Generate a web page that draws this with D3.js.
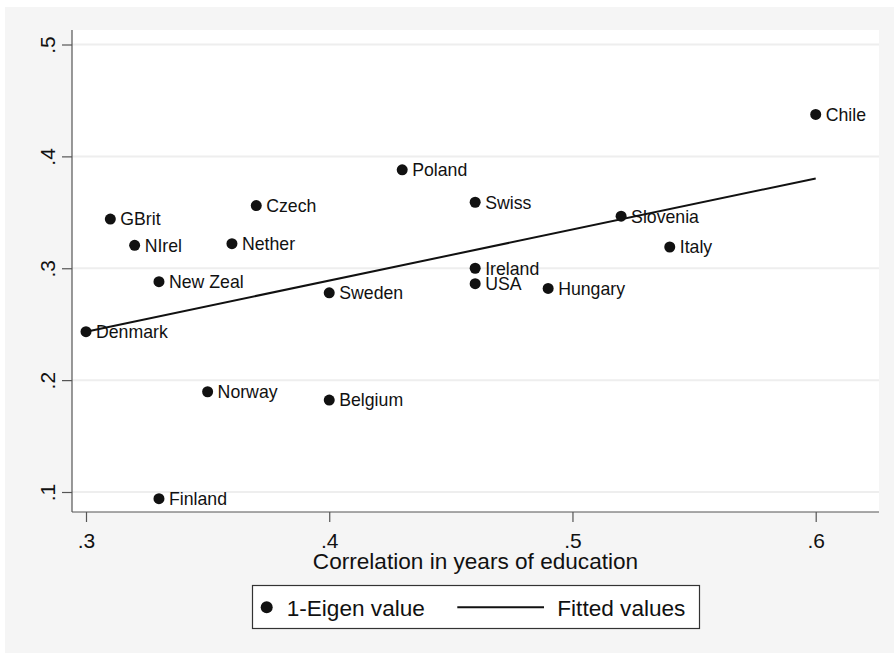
<!DOCTYPE html>
<html>
<head>
<meta charset="utf-8">
<script src="https://cdn.jsdelivr.net/npm/d3@7"></script>
<style>
  html, body { margin: 0; padding: 0; background: #ffffff; }
  svg { display: block; font-family: "Liberation Sans", Arial, Helvetica, sans-serif; }
</style>
</head>
<body>
<svg id="chart" width="894" height="654"></svg>
<script>
// ---- data ----
const countries = ["Chile","Poland","Czech","GBrit","NIrel","Nether","New Zeal","Sweden","Swiss","Slovenia","Italy","Ireland","USA","Hungary","Denmark","Norway","Belgium","Finland"];
const eduCorr   = [0.60, 0.43, 0.37, 0.31, 0.32, 0.36, 0.33, 0.40, 0.46, 0.52, 0.54, 0.46, 0.46, 0.49, 0.30, 0.35, 0.40, 0.33];
const eigenVal  = [0.4375, 0.388, 0.356, 0.344, 0.3205, 0.322, 0.288, 0.278, 0.359, 0.3465, 0.319, 0.300, 0.2862, 0.282, 0.2433, 0.1896, 0.1822, 0.094];
const fitX = [0.30, 0.60];
const fitY = [0.2433, 0.3803];
const xTicks = [0.3, 0.4, 0.5, 0.6];
const xTickLabels = [".3", ".4", ".5", ".6"];
const yTicks = [0.1, 0.2, 0.3, 0.4, 0.5];
const yTickLabels = [".1", ".2", ".3", ".4", ".5"];
const xTitle = "Correlation in years of education";
const legendLabels = ["1-Eigen value", "Fitted values"];

// ---- layout ----
const svg = d3.select("#chart");
const plot = { left: 72, right: 879, top: 30, bottom: 512 };

svg.append("rect").attr("x", 5).attr("y", 7).attr("width", 889).attr("height", 646).attr("fill", "#f5f5f5");
svg.append("rect").attr("x", plot.left).attr("y", plot.top)
  .attr("width", plot.right - plot.left).attr("height", plot.bottom - plot.top).attr("fill", "#ffffff");

const x = d3.scaleLinear().domain([0.3, 0.6]).range([86, 815.7]);
const y = d3.scaleLinear().domain([0.1, 0.5]).range([492, 44.5]);

// grid lines
svg.append("g").selectAll("line").data(yTicks).join("line")
  .attr("x1", plot.left).attr("x2", plot.right)
  .attr("y1", d => y(d)).attr("y2", d => y(d))
  .attr("stroke", "#eeeeee").attr("stroke-width", 2);

// y axis
const yAxis = d3.axisLeft(y).tickValues(yTicks).tickSize(10).tickFormat((d, i) => yTickLabels[i]);
const gy = svg.append("g").attr("transform", `translate(${plot.left},0)`).call(yAxis);
gy.select(".domain").attr("d", `M0,${plot.top}V${plot.bottom}`).attr("stroke", "#555").attr("stroke-width", 1.2);
gy.selectAll(".tick line").attr("stroke", "#555").attr("stroke-width", 1.2);
gy.selectAll(".tick text")
  .attr("x", null).attr("dy", null)
  .attr("transform", "translate(-17,0) rotate(-90)")
  .attr("text-anchor", "middle")
  .attr("font-size", 21).attr("fill", "#111")
  .attr("font-family", "Liberation Sans, Arial, sans-serif");

// x axis
const xAxis = d3.axisBottom(x).tickValues(xTicks).tickSize(10).tickFormat((d, i) => xTickLabels[i]);
const gx = svg.append("g").attr("transform", `translate(0,${plot.bottom})`).call(xAxis);
gx.select(".domain").attr("d", `M${plot.left},0H${plot.right}`).attr("stroke", "#555").attr("stroke-width", 1.2);
gx.selectAll(".tick line").attr("stroke", "#555").attr("stroke-width", 1.2);
gx.selectAll(".tick text")
  .attr("y", 35.5).attr("dy", null)
  .attr("font-size", 21).attr("fill", "#111")
  .attr("font-family", "Liberation Sans, Arial, sans-serif");

// axis title
svg.append("text").attr("x", (plot.left + plot.right) / 2).attr("y", 569)
  .attr("text-anchor", "middle").attr("font-size", 22.6).attr("fill", "#111").text(xTitle);

// fitted line
const fitData = fitX.map((v, i) => [v, fitY[i]]);
svg.append("path").datum(fitData)
  .attr("d", d3.line().x(d => x(d[0])).y(d => y(d[1])))
  .attr("fill", "none").attr("stroke", "#111").attr("stroke-width", 2);

// points
const pts = countries.map((c, i) => ({ c, xv: eduCorr[i], yv: eigenVal[i] }));
svg.append("g").selectAll("circle").data(pts).join("circle")
  .attr("cx", d => x(d.xv)).attr("cy", d => y(d.yv)).attr("r", 5.5).attr("fill", "#111");
svg.append("g").selectAll("text").data(pts).join("text")
  .attr("x", d => x(d.xv) + 10).attr("y", d => y(d.yv) + 6.3)
  .attr("font-size", 17.7).attr("fill", "#111").text(d => d.c);

// legend
const lg = svg.append("g");
lg.append("rect").attr("x", 252.5).attr("y", 585.5).attr("width", 447).attr("height", 43)
  .attr("fill", "#ffffff").attr("stroke", "#333").attr("stroke-width", 1.2);
lg.append("circle").attr("cx", 266.7).attr("cy", 607.3).attr("r", 6).attr("fill", "#111");
lg.append("text").attr("x", 286.7).attr("y", 615.5).attr("font-size", 22.6).attr("fill", "#111").text(legendLabels[0]);
lg.append("line").attr("x1", 457.3).attr("x2", 544).attr("y1", 607.3).attr("y2", 607.3)
  .attr("stroke", "#111").attr("stroke-width", 2);
lg.append("text").attr("x", 557.3).attr("y", 615.5).attr("font-size", 22.6).attr("fill", "#111").text(legendLabels[1]);
</script>
</body>
</html>
